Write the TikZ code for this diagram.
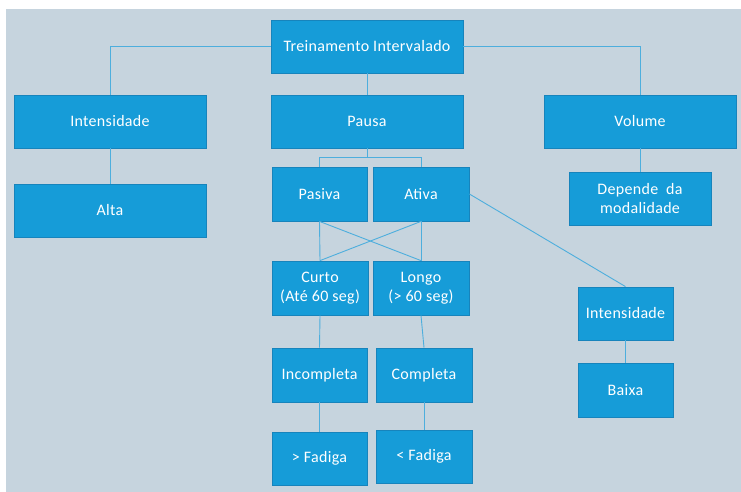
\documentclass[tikz,border=0pt]{standalone}
\usepackage{fontspec}
\setmainfont[LetterSpace=2]{Carlito}
\definecolor{bgpanel}{HTML}{C6D4DE}
\definecolor{boxfill}{HTML}{169CD8}
\definecolor{boxline}{HTML}{1784BC}
\definecolor{wire}{HTML}{4DAEDD}
\tikzset{
  box/.style={draw=boxline, line width=0.8pt, fill=boxfill, text=white,
    inner sep=0pt, align=center, font=\fontsize{16}{19.5}\selectfont},
  wirepath/.style={draw=wire, line width=0.9pt}
}
\newcommand{\boxat}[6]{% name, x1, y1, x2, y2, text
  \node[box, minimum width=#4pt-#2pt, minimum height=#5pt-#3pt]
    (#1) at ({(#2+#4)/2},{(#3+#5)/2}) {#6};}
\begin{document}
\begin{tikzpicture}[x=1pt,y=-1pt]
\useasboundingbox (0,0) rectangle (741,492);
\fill[white] (0,0) rectangle (741,492);
\fill[bgpanel] (6,9) rectangle (741,492);

% boxes
\boxat{root}{271}{20}{463}{73}{Treinamento Intervalado}
\boxat{intA}{14}{95}{206}{148}{Intensidade}
\boxat{pausa}{271}{95}{463}{148}{Pausa}
\boxat{volume}{544}{95}{736}{148}{Volume}
\boxat{alta}{14}{184}{206}{237}{Alta}
\boxat{pasiva}{272}{167}{367}{221}{Pasiva}
\boxat{ativa}{373}{167}{469}{221}{Ativa}
\boxat{depende}{569}{172}{711}{225}{Depende\ \ da\\modalidade}
\boxat{curto}{272}{261}{368}{315}{Curto\\(Até 60 seg)}
\boxat{longo}{373}{261}{469}{315}{Longo\\(> 60 seg)}
\boxat{intB}{578}{287}{673}{340}{Intensidade}
\boxat{baixa}{578}{363}{673}{417}{Baixa}
\boxat{incomp}{272}{348}{367}{402}{Incompleta}
\boxat{comp}{376}{348}{472}{402}{Completa}
\boxat{fadmais}{272}{432}{367}{485}{> Fadiga}
\boxat{fadmenos}{376}{430}{472}{483}{< Fadiga}

% connectors
\draw[wirepath] (root.west) -| (intA.north);
\draw[wirepath] (root.east) -| (volume.north);
\draw[wirepath] (root.south) -- (pausa.north);
\draw[wirepath] (intA.south) -- (alta.north);
\draw[wirepath] (volume.south -| depende.north) -- (depende.north);
\draw[wirepath] (pausa.south) -- (pausa.south |- 0,157) coordinate (pj);
\draw[wirepath] (pasiva.north) -- (pasiva.north |- pj) -- (ativa.north |- pj) -- (ativa.north);
\draw[wirepath] (pasiva.south) -- (curto.north);
\draw[wirepath] (pasiva.south) -- (longo.north);
\draw[wirepath] (ativa.south) -- (longo.north);
\draw[wirepath] (ativa.south) -- (curto.north);
\draw[wirepath] (ativa.east) -- (intB.north);
\draw[wirepath] (intB.south) -- (baixa.north);
\draw[wirepath] (curto.south) -- (incomp.north);
\draw[wirepath] (longo.south) -- (comp.north);
\draw[wirepath] (incomp.south) -- (fadmais.north);
\draw[wirepath] (comp.south) -- (fadmenos.north);
\end{tikzpicture}
\end{document}
